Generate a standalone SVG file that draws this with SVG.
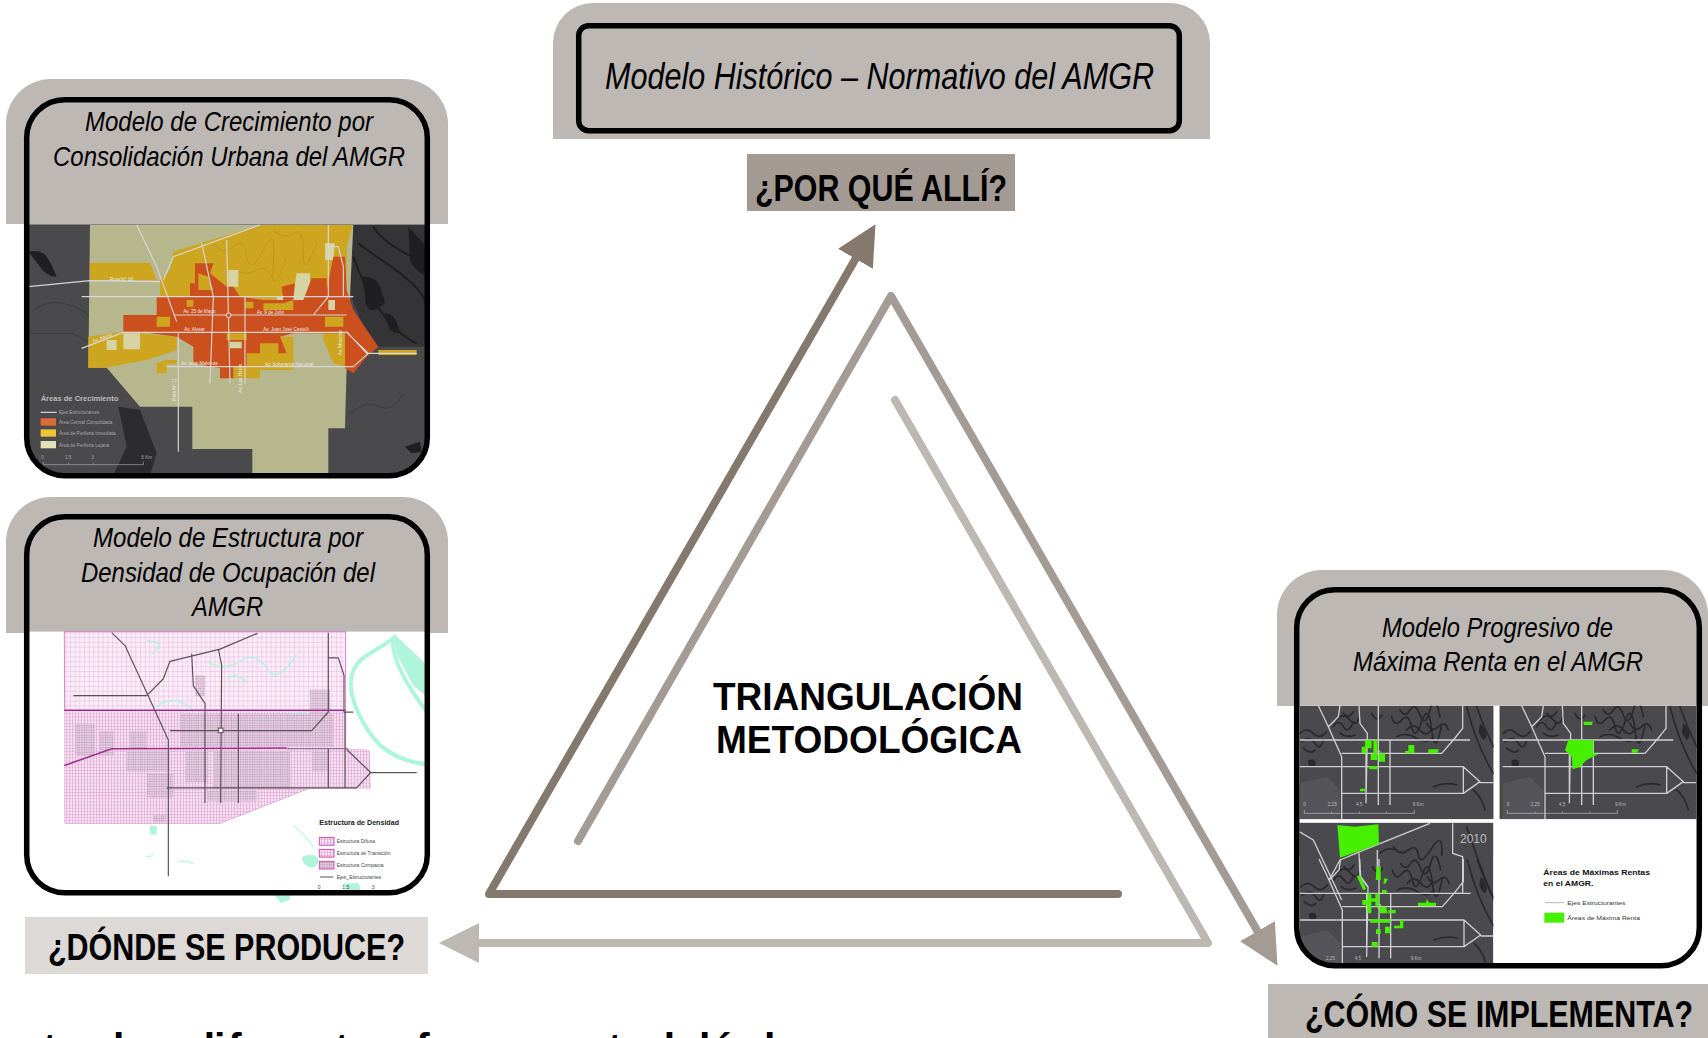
<svg xmlns="http://www.w3.org/2000/svg" xmlns:xlink="http://www.w3.org/1999/xlink" width="1708" height="1038" viewBox="0 0 1708 1038">
<style>
text{font-family:"Liberation Sans",Arial,sans-serif;fill:#000}
.tan{fill:#BDB8B3}
.frame{fill:none;stroke:#000;stroke-width:5.5}
.title{font-style:italic;font-size:28px}
.q{font-weight:bold;font-size:37px}
.leg{stroke-linecap:round;stroke-linejoin:round;fill:none;stroke-width:8}
.road{fill:none;stroke:#D6D6D6;stroke-width:3.5;stroke-linejoin:round}
.road3{fill:none;stroke:#CFCFCF;stroke-width:4;stroke-linejoin:round}
.cont{fill:none;stroke:#2A2A2C;stroke-width:5;stroke-linecap:round}
.mlab{fill:#E8E8E8;font-size:14px}
.mleg{fill:#A9A9A9;font-size:14px}
.dk{fill:#444;font-size:15px}
.g{fill:#47F000}
.mg{fill:#4A4A4E}
.sc{fill:#BDBDBD;font-size:14px}
</style>
<defs>
<marker id="ahDark" markerUnits="userSpaceOnUse" markerWidth="40" markerHeight="40" viewBox="0 0 40 40" refX="1" refY="20" orient="auto"><path d="M0,0L40,20L0,40Z" fill="#85796E"/></marker>
<marker id="ahMid" markerUnits="userSpaceOnUse" markerWidth="40" markerHeight="40" viewBox="0 0 40 40" refX="1" refY="20" orient="auto"><path d="M0,0L40,20L0,40Z" fill="#A39B94"/></marker>
<marker id="ahLight" markerUnits="userSpaceOnUse" markerWidth="40" markerHeight="40" viewBox="0 0 40 40" refX="1" refY="20" orient="auto"><path d="M0,0L40,20L0,40Z" fill="#BEB8B2"/></marker>
<clipPath id="c1"><rect x="26" y="99" width="403" height="378" rx="38"/></clipPath>
<clipPath id="c2"><rect x="26" y="516" width="403" height="378" rx="38"/></clipPath>
<clipPath id="c3"><rect x="1296" y="589" width="405" height="378" rx="38"/></clipPath>
<clipPath id="tl"><rect x="118" y="437" width="583" height="341"/></clipPath>
<clipPath id="tr"><rect x="718" y="437" width="592" height="341"/></clipPath>
<clipPath id="bl"><rect x="118" y="788" width="582" height="440"/></clipPath>
<pattern id="gridA" patternUnits="userSpaceOnUse" width="14" height="14"><rect width="14" height="14" fill="#FBEDF8"/><path d="M0,0H14M0,0V14" stroke="#D88FCB" stroke-width="1.7"/></pattern>
<pattern id="gridB" patternUnits="userSpaceOnUse" width="9" height="9"><rect width="9" height="9" fill="#F6DFF1"/><path d="M0,0H9M0,0V9" stroke="#C877B9" stroke-width="1.7"/></pattern>
<pattern id="gridC" patternUnits="userSpaceOnUse" width="7" height="7"><rect width="7" height="7" fill="#E9CFE4"/><path d="M0,0H7M0,0V7" stroke="#8F6E8C" stroke-width="1.7"/></pattern>
<g id="roads3">
<path class="cont" d="M120,520q20,-20 40,0t40,-5M125,545q25,-20 40,5t25,-10M130,565q25,20 35,5M220,500q15,-25 30,0t30,-15M230,480q20,-25 40,0t30,-15M240,520q20,15 45,5M335,460q15,30 30,5M395,470q10,35 30,10t30,20t30,-15t30,25t30,-15M410,530q30,-15 60,5t50,-5M420,450q15,25 30,0t30,15t30,-15t30,20M440,510q20,-25 40,0t35,-5M500,490q15,30 35,10t30,10M250,460q15,20 30,-5M620,440C640,520 670,590 700,640M650,440C670,500 690,540 700,560M520,680q40,-15 70,-5M640,690q25,20 35,60"/>
<path fill="#2A2A2C" d="M145,600q20,-5 22,8t-12,12t-10,-20zM660,490q15,15 18,30t-8,20q-12,-15 -14,-25z"/>
<path fill="#555559" d="M118,670L200,650L240,690V778H118Z"/>
<path class="road3" d="M175,437L205,500L245,590V778M205,500L235,470L240,437M118,540H630M118,620H610L660,665L610,700H245M660,668H700M245,580H545L580,540L608,505V437M355,437V735M390,540V735M318,540V700M297,437L300,490L322,520L318,730M610,620V700"/>
<circle cx="355" cy="578" r="6" fill="none" stroke="#C9C9C9" stroke-width="2.5"/>
</g>
</defs>

<g id="node-crecimiento">
<path class="tan" d="M6,224V124A45,45 0 0 1 51,79H403A45,45 0 0 1 448,124V224Z"/>
<g clip-path="url(#c1)"><g transform="translate(0,70) scale(.33333)">
<rect x="70" y="463" width="1225" height="770" fill="#4A4A4C"/>
<path fill="#343436" d="M1060,465H1285V830H1135C1100,790 1070,730 1055,680C1040,630 1030,550 1060,465Z"/>
<path fill="#1F1F21" d="M1085,620q40,0 50,20t20,60q-20,20 -40,20t-20,-50zM1150,730q20,0 30,10t20,50q-20,0 -30,-10zM1225,470l55,60v90q-40,-20 -50,-50zM85,545q30,-5 45,5t40,70q-30,0 -50,-30zM1215,1130l45,-15l5,30l-30,5z"/>
<path fill="none" stroke="#1F1F21" stroke-width="6" d="M1075,520C1120,560 1240,620 1275,690M1060,560C1090,650 1160,780 1250,820M1120,470C1150,520 1230,560 1280,580"/>
<path fill="none" stroke="#38383A" stroke-width="2.5" d="M85,790H220l50,30M100,720q40,-30 90,-20t80,40M1050,1030q50,-40 90,-20t70,-40"/>
<path fill="#B7B78D" d="M270,465H1060L1040,890L1035,1075H985V1210H757V1137H577V1010H420L320,893H265Z"/>
<path fill="#2C2C2E" d="M355,1010L420,1020L470,1150L450,1215H340L380,1130Z"/>
<path fill="#CDA51F" d="M520,545L780,465H1058L1040,530L1040,690L930,700L830,700L730,690L480,680L480,630L510,600ZM270,578H450L470,630H270ZM265,893V800L370,785L530,800L530,840L440,870L315,893ZM690,800H880V900H780V925H700V880ZM970,740H1040V890L1000,880L970,810ZM1135,840H1250V855H1135ZM470,880l30,-10h30v12h-30v28h-30z"/>
<path fill="none" stroke="#B8951C" stroke-width="2.5" d="M640,520q30,40 60,10t40,30t50,-20t30,40t40,-20M820,480q30,30 60,10t30,60t40,-30M700,600q40,20 70,0t50,30"/>
<path fill="#D6D3A4" d="M890,610H930V690L840,725L830,680L880,670ZM320,810h30v30h-30zM370,790h50v48h-50zM975,520h30l-5,50h-25zM975,690h35v50h-35zM685,600h30v50h-30z"/>
<path fill="#CC4F1E" d="M370,735H470V680H570V640L585,640V580H640L630,610L680,650H700L720,680L790,690H850L845,650L885,640L880,690H910L935,625H980V660L1000,560H1035L1040,660L1060,720L1135,830L1100,860L1060,910L1035,895V790H880L840,800L860,850H835V820H780V850H740V890H700V925H660V895L580,880V830L530,800L420,785H370Z"/>
<path fill="#CDA51F" d="M560,690h20v20h-20zM735,695h25v20h-25zM470,740h40v30h-40zM680,790h60v20h-60zM975,740h55v30h-55zM790,700h60l30,-10v30h-90zM595,610l30,10l15,40h-45z"/>
<path fill="#D6D3A4" d="M690,815h35v20h-35zM985,690h20v30h-20z"/>
<path class="road" d="M85,650L270,632L480,635M410,465L470,590L530,755M490,630L520,560L780,465M245,680H1060M520,735H1040M245,835L370,787H1040L1105,850L1060,890H500M605,520L640,680L630,940M680,510L690,940M735,680V940M985,465V680L940,735M1040,785L1100,850H1250M535,790V1145M985,530H1015L1030,590V680"/>
<circle cx="686" cy="736" r="7" fill="#CC4F1E" stroke="#E8E8E8" stroke-width="3"/>
<text class="mlab" x="330" y="632">Ruta N° 16</text>
<text class="mlab" x="550" y="730">Av. 25 de Mayo</text>
<text class="mlab" x="770" y="732">Av. 9 de Julio</text>
<text class="mlab" x="553" y="782">Av. Alvear</text>
<text class="mlab" x="790" y="783">Av. Juan José Castelli</text>
<text class="mlab" x="543" y="886">Av. Islas Malvinas</text>
<text class="mlab" x="795" y="888">Av. Soberanía Nacional</text>
<text class="mlab" transform="translate(280,818) rotate(-20)">Av. Alvear</text>
<text class="mlab" transform="translate(528,992) rotate(-90)">Ruta N° 11</text>
<text class="mlab" transform="translate(726,968) rotate(-90)">Av. Las Heras</text>
<text class="mlab" transform="translate(1026,856) rotate(-90)">Av. Mosconi</text>
<text x="122" y="994" font-size="20" font-weight="bold" style="fill:#BDBDBD" textLength="233" lengthAdjust="spacingAndGlyphs">Áreas de Crecimiento</text>
<path d="M122,1027H170" stroke="#CFCFCF" stroke-width="4"/>
<rect x="122" y="1045" width="46" height="22" fill="#DE6A36"/>
<rect x="122" y="1078" width="46" height="22" fill="#EFC536"/>
<rect x="122" y="1113" width="46" height="22" fill="#E3E2B3"/>
<text class="mleg" x="177" y="1032">Ejes Estructurantes</text>
<text class="mleg" x="177" y="1063">Área Central Consolidada</text>
<text class="mleg" x="177" y="1095">Área de Periferia Inmediata</text>
<text class="mleg" x="177" y="1130">Área de Periferia Lejana</text>
<text class="mleg" x="124" y="1166">0</text><text class="mleg" x="195" y="1166">1.5</text><text class="mleg" x="274" y="1166">3</text><text class="mleg" x="424" y="1166">6 Km</text>
<path d="M130,1175V1184H430V1175M205,1178V1184M280,1178V1184" fill="none" stroke="#A9A9A9" stroke-width="2"/>
</g></g>
<rect class="frame" x="26.7" y="99.7" width="400.6" height="376" rx="38"/>
<text class="title" x="85" y="131" textLength="288" lengthAdjust="spacingAndGlyphs">Modelo de Crecimiento por</text>
<text class="title" x="53" y="166" textLength="352" lengthAdjust="spacingAndGlyphs">Consolidación Urbana del AMGR</text>
</g>

<g id="node-estructura">
<path fill="#AEF5DC" d="M272,892l20,0l-3,8l-8,3z"/>
<path class="tan" d="M6,633V542A45,45 0 0 1 51,497H403A45,45 0 0 1 448,542V633Z"/>
<g clip-path="url(#c2)"><g transform="translate(0,490) scale(.33333,.34965)">
<rect x="70" y="405" width="1225" height="770" fill="#fff"/>
<path fill="none" stroke="#AEF5DC" stroke-width="12" d="M1185,420C1120,470 1075,470 1055,530C1040,590 1090,680 1140,730C1190,770 1240,780 1285,785M1180,420C1170,480 1220,560 1285,640"/>
<path fill="#AEF5DC" d="M1180,410l100,90v90l-40,-30l-50,-90zM905,1050q30,-15 45,0t-10,30q-30,0 -35,-30zM1030,1125l45,0l10,25l-45,0zM450,960h20v25h-20z"/>
<path fill="none" stroke="#AEF5DC" stroke-width="3" d="M880,960q30,20 60,60M530,1065q30,-10 50,5M440,1050l20,-5"/>
<path fill="url(#gridA)" stroke="#C659B4" stroke-width="2" d="M193,405H1037V742L1107,745L1110,852H930L660,953H195Z"/>
<path fill="url(#gridB)" d="M193,632H1037V742H335L193,788ZM193,788L335,742H1107L1110,852H930L660,953H195Z"/>
<path fill="none" stroke="#AEF5DC" stroke-width="5" opacity=".8" d="M470,620q40,-30 80,-10t40,40M620,490q50,30 100,0t80,20t90,-40M760,650q40,20 90,0t80,-10M440,430l40,10l-20,30M680,540q30,-20 60,10"/>
<path fill="url(#gridC)" opacity=".8" d="M225,670h60v90h-60zM300,690h40v70h-40zM390,690h50v50h-50zM540,640h460v95H540zM930,570h60v70h-60zM380,745h130v60H380zM440,810h80v70h-80zM555,745h70v90h-70zM640,745h230v110H640zM935,745h50v60h-50zM585,530h30v60h-30zM620,860h150v30H620zM460,930h40v20h-40z"/>
<path fill="none" stroke="#5A5058" stroke-width="3.5" stroke-linejoin="round" d="M335,408L375,445L450,600L505,715V1105M220,588H440L490,540L510,490L660,455L772,410M575,468L580,560L615,610V895M655,455L665,500L662,895M715,640V895M985,408V635L935,688H510M985,480H1015L1032,530V635H1060M1040,742L1112,808H1250M1112,808L1070,852H500M985,740V852M1035,635V852"/>
<path fill="none" stroke="#9C2F8C" stroke-width="4.5" d="M193,630H1037M193,788L335,740L860,738"/>
<path fill="none" stroke="#7A4A78" stroke-width="2.5" d="M860,740H1045"/>
<rect x="655" y="681" width="14" height="13" fill="#fff" stroke="#5A5058" stroke-width="3"/>
<text x="958" y="958" font-size="18" font-weight="bold" style="fill:#222" textLength="239" lengthAdjust="spacingAndGlyphs">Estructura de Densidad</text>
<rect x="958" y="994" width="44" height="22" fill="url(#gridB)" stroke="#C659B4" stroke-width="3"/>
<rect x="958" y="1028" width="44" height="22" fill="url(#gridB)" stroke="#C659B4" stroke-width="3"/>
<rect x="958" y="1062" width="44" height="22" fill="url(#gridC)" stroke="#C659B4" stroke-width="3"/>
<path d="M960,1107H1000" stroke="#555" stroke-width="3"/>
<text class="dk" x="1010" y="1009">Estructura Difusa</text>
<text class="dk" x="1010" y="1044">Estructura de Transición</text>
<text class="dk" x="1010" y="1078">Estructura Compacta</text>
<text class="dk" x="1010" y="1112">Ejes_Estructurantes</text>
<text class="dk" x="953" y="1140">0</text><text class="dk" x="1027" y="1140">1.5</text><text class="dk" x="1115" y="1140">3</text>
</g></g>
<rect class="frame" x="26.7" y="516.7" width="400.6" height="376" rx="38"/>
<text class="title" x="93" y="547" textLength="270" lengthAdjust="spacingAndGlyphs">Modelo de Estructura por</text>
<text class="title" x="81" y="582" textLength="294" lengthAdjust="spacingAndGlyphs">Densidad de Ocupación del</text>
<text class="title" x="192" y="616" textLength="71" lengthAdjust="spacingAndGlyphs">AMGR</text>
</g>

<g id="node-historico">
<path class="tan" d="M553,139V43A40,40 0 0 1 593,3H1170A40,40 0 0 1 1210,43V139Z"/>
<rect class="frame" x="578.7" y="25.7" width="600.6" height="105" rx="10"/>
<text x="605" y="89" font-size="36" font-style="italic" textLength="549" lengthAdjust="spacingAndGlyphs">Modelo Histórico – Normativo del AMGR</text>
</g>

<g id="node-renta">
<path class="tan" d="M1277,706V615A45,45 0 0 1 1322,570H1663A45,45 0 0 1 1708,615V706Z"/>
<g clip-path="url(#c3)"><g transform="translate(1260,560) scale(.33333)">
<rect x="100" y="437" width="1230" height="800" fill="#fff"/>
<g clip-path="url(#tl)"><rect class="mg" x="118" y="437" width="583" height="341"/><use xlink:href="#roads3" href="#roads3"/>
<path class="g" d="M315,540h20v25h-15v15h-15v-20h10zM340,540h12v60h-12zM332,582h10v18h-10zM357,580h18v25h-18zM328,618h25v10h-25zM300,686h15v8h-15zM445,555h18v25h-28v-7h10zM505,568h32l-5,12h-27z"/>
<text class="sc" x="130" y="738">0</text><text class="sc" x="203" y="738">2,25</text><text class="sc" x="288" y="738">4,5</text><text class="sc" x="458" y="738">9 Km</text>
<path d="M133,750V760H463V750M215,755V760M298,755V760M380,755V760" fill="none" stroke="#BDBDBD" stroke-width="2"/></g>
<g clip-path="url(#tr)"><rect class="mg" x="718" y="437" width="592" height="341"/><use xlink:href="#roads3" href="#roads3" transform="translate(610,0)"/>
<path class="g" d="M925,540H1000V580L1015,582L980,600L960,620L938,628L935,590L915,570ZM970,485h28l-2,10h-24zM1115,568h22l-6,10h-16z"/>
<text class="sc" x="740" y="738">0</text><text class="sc" x="812" y="738">2,25</text><text class="sc" x="897" y="738">4,5</text><text class="sc" x="1065" y="738">9 Km</text>
<path d="M742,750V760H1072V750M825,755V760M908,755V760M990,755V760" fill="none" stroke="#BDBDBD" stroke-width="2"/></g>
<g clip-path="url(#bl)"><rect class="mg" x="118" y="788" width="582" height="440"/>
<g transform="translate(2,460)"><use xlink:href="#roads3" href="#roads3"/></g>
<rect class="mg" x="118" y="788" width="582" height="100"/>
<path class="cont" d="M400,860q20,30 45,10t30,15t40,-20t30,20M360,880q20,-20 50,-10M620,800C640,860 670,950 700,1010"/>
<path class="road3" d="M118,815L160,840L245,1020M207,960L240,900L300,875L510,790M297,880L300,950L322,980M352,870V960M578,790V880L608,890V1000L580,1000"/>
<path class="g" d="M232,795L285,800L355,793L357,852L240,893ZM290,948l10,-2l18,40l-8,5zM350,920h12v40h-15zM372,955l12,2l-8,14h-6zM366,990h14v10h-14zM322,1000h12v15h12v-15h10v40h-10v-15h-12v35h-12v-25h-15v-15h15zM358,1040h20l5,20h-25zM385,1050h22v10h-22zM330,1078h62v10h-62zM348,1108h14v14h-14zM375,1100h16v20h-16zM420,1080h10v25h-28v-8h18zM335,1146h18v14h-18zM474,1028h24l2,-10l8,10h20v10h-54z"/>
<text x="600" y="848" font-size="36" style="fill:#BDBDBD" textLength="80" lengthAdjust="spacingAndGlyphs">2010</text>
<text class="sc" x="198" y="1200">2,25</text><text class="sc" x="284" y="1200">4,5</text><text class="sc" x="452" y="1200">9 Km</text></g>
<text x="850" y="945" font-size="24" font-weight="bold" style="fill:#111" textLength="320" lengthAdjust="spacingAndGlyphs">Áreas de Máximas Rentas</text>
<text x="850" y="977" font-size="24" font-weight="bold" style="fill:#111" textLength="150" lengthAdjust="spacingAndGlyphs">en el AMGR.</text>
<path d="M855,1028H912" stroke="#AAA" stroke-width="2.5"/>
<rect class="g" x="853" y="1058" width="60" height="30"/>
<text x="922" y="1035" font-size="18" style="fill:#333" textLength="174" lengthAdjust="spacingAndGlyphs">Ejes Estructurantes</text>
<text x="922" y="1080" font-size="18" style="fill:#333" textLength="218" lengthAdjust="spacingAndGlyphs">Áreas de Máxima Renta</text>
</g></g>
<rect class="frame" x="1296.7" y="589.7" width="402.6" height="376" rx="38"/>
<text class="title" x="1382" y="637" textLength="231" lengthAdjust="spacingAndGlyphs">Modelo Progresivo de</text>
<text class="title" x="1353" y="671" textLength="290" lengthAdjust="spacingAndGlyphs">Máxima Renta en el AMGR</text>
</g>

<g id="node-donde">
<rect x="25" y="917" width="403" height="57" fill="#DCD9D6"/>
<text class="q" x="48" y="960" textLength="357" lengthAdjust="spacingAndGlyphs">¿DÓNDE SE PRODUCE?</text>
</g>
<g id="node-porque">
<rect x="747" y="154" width="268" height="57" fill="#A39A94"/>
<text class="q" x="755" y="201" textLength="252" lengthAdjust="spacingAndGlyphs">¿POR QUÉ ALLÍ?</text>
</g>
<g id="node-como">
<rect x="1268" y="984" width="440" height="54" fill="#BDB8B3"/>
<text class="q" x="1305" y="1027" textLength="388" lengthAdjust="spacingAndGlyphs">¿CÓMO SE IMPLEMENTA?</text>
</g>
<g id="node-centro">
<text x="713" y="710" font-size="38" font-weight="bold" textLength="310" lengthAdjust="spacingAndGlyphs">TRIANGULACIÓN</text>
<text x="716" y="753" font-size="38" font-weight="bold" textLength="306" lengthAdjust="spacingAndGlyphs">METODOLÓGICA</text>
</g>

<g id="connectors">
<polyline class="leg" stroke="#BEB8B2" points="895,400 1208,943 478,943" marker-end="url(#ahLight)"/>
<polyline class="leg" stroke="#A39B94" points="578,841 891,296 1258,932" marker-end="url(#ahMid)"/>
<polyline class="leg" stroke="#85796E" points="1118,894 489,894 856,258" marker-end="url(#ahDark)"/>
</g>

<text id="clipped-line" y="1061.5" font-size="41" font-weight="bold" x="43 113 190 214 228 335 416 608 650 699 712 764">tldiftftdlál</text>
</svg>
